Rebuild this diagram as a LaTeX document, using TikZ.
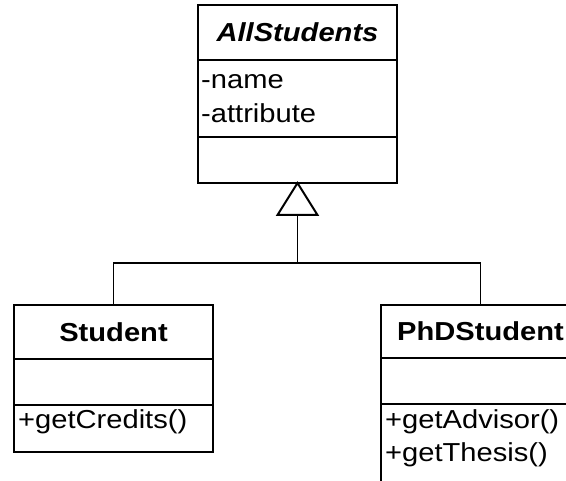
\documentclass[tikz,border=0pt]{standalone}
\usepackage{fontspec}
\setmainfont{Liberation Sans}[FakeStretch=1.12]
\usetikzlibrary{calc}

\tikzset{
  compartment/.style={draw, line width=2pt, rectangle, inner sep=0pt, outer sep=0pt,
                      anchor=north west, minimum width=199pt},
  classname/.style={font=\fontsize{26}{30}\selectfont\bfseries},
  member/.style={font=\fontsize{26}{30}\selectfont, anchor=base west, inner sep=0pt},
  link/.style={line width=1.3pt},
  inherit/.style={line width=2pt, line join=miter, fill=white}
}

\begin{document}
\begin{tikzpicture}[x=1pt,y=-1pt]
  \useasboundingbox (0,0) rectangle (566,481);
  \clip (0,0) rectangle (566,481);

  % abstract base class
  \node[compartment, minimum height=55pt, classname] (all-head) at (198,5) {\itshape AllStudents};
  \node[compartment, minimum height=77pt] (all-attrs) at (198,60) {};
  \node[compartment, minimum height=46pt] (all-meth) at (198,137) {};
  \node[member] (all-a1) at (201,89) {-name};
  \node[member] (all-a2) at (201,123) {-attribute};

  % subclass Student
  \node[compartment, minimum height=54pt, classname] (stu-head) at (14,305) {Student};
  \node[compartment, minimum height=46pt] (stu-attrs) at (14,359) {};
  \node[compartment, minimum height=47pt] (stu-meth) at (14,405) {};
  \node[member] (stu-m1) at (18,429) {+getCredits()};

  % subclass PhDStudent
  \node[compartment, minimum height=53pt, classname] (phd-head) at (381,305) {PhDStudent};
  \node[compartment, minimum height=46pt] (phd-attrs) at (381,358) {};
  \node[compartment, minimum height=90pt] (phd-meth) at (381,404) {};
  \node[member] (phd-m1) at (385,429) {+getAdvisor()};
  \node[member] (phd-m2) at (385,462) {+getThesis()};

  % generalization: hollow triangle and tree connector
  \coordinate (tri-base) at ($(all-meth.south)+(0,32)$);
  \coordinate (bus) at ($(all-meth.south)+(0,80)$);
  \draw[link] (tri-base) -- (bus);
  \draw[link] (stu-head.north) -- (stu-head.north |- bus) -- (phd-head.north |- bus) -- (phd-head.north);
  \draw[inherit] (all-meth.south) -- ($(tri-base)+(-20,0)$) -- ($(tri-base)+(20,0)$) -- cycle;
\end{tikzpicture}
\end{document}
